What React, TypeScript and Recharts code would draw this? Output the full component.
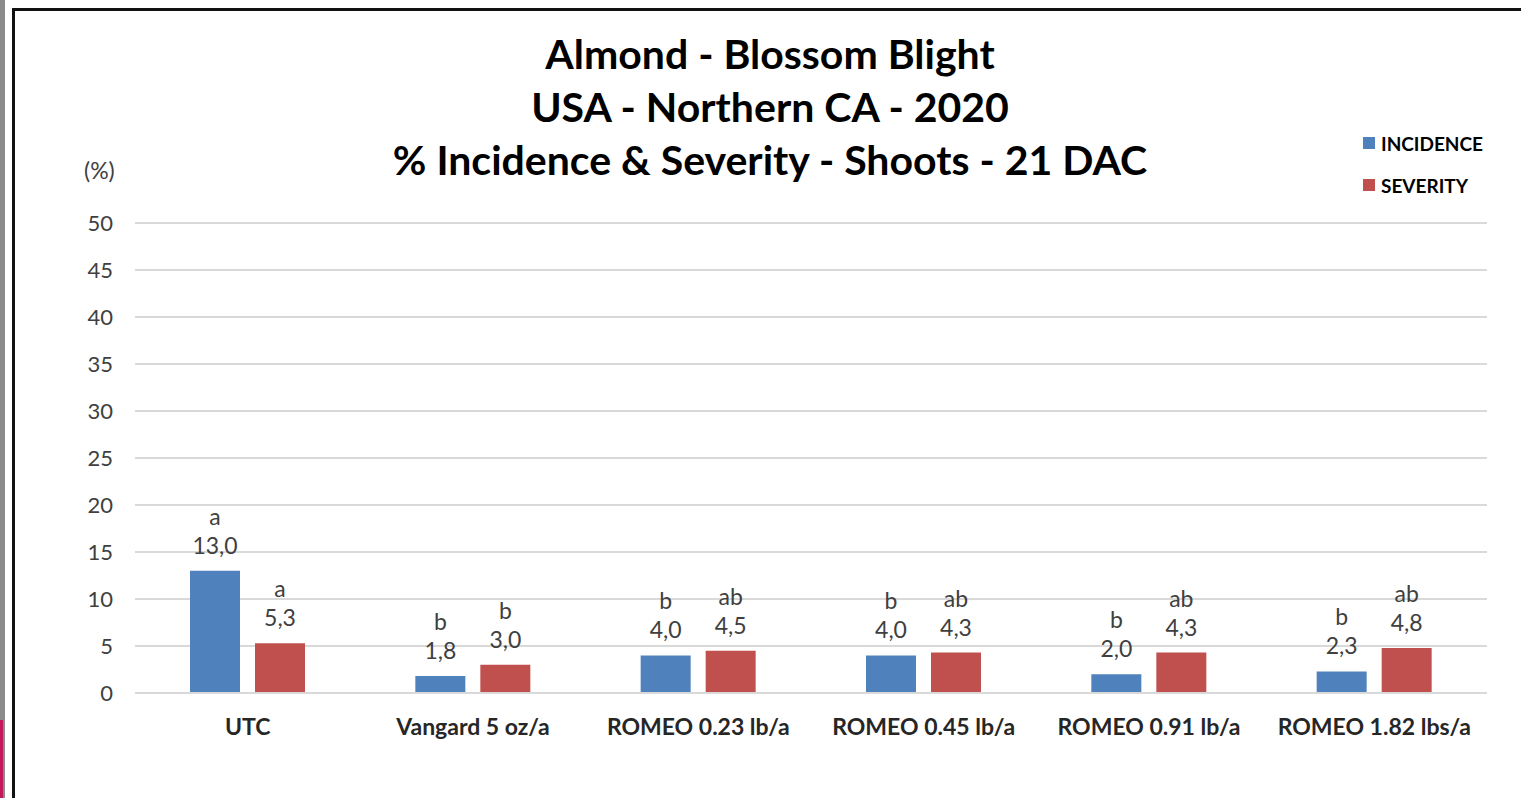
import React from 'react'
import { Bar, BarChart, CartesianGrid, LabelList, XAxis, YAxis } from 'recharts'

const categories = ['UTC', 'Vangard 5 oz/a', 'ROMEO 0.23 lb/a', 'ROMEO 0.45 lb/a', 'ROMEO 0.91 lb/a', 'ROMEO 1.82 lbs/a']
const incidence = [13.0, 1.8, 4.0, 4.0, 2.0, 2.3]
const severity = [5.3, 3.0, 4.5, 4.3, 4.3, 4.8]
const incidenceLetters = ['a', 'b', 'b', 'b', 'b', 'b']
const severityLetters = ['a', 'b', 'ab', 'ab', 'ab', 'ab']
const yTicks = [0, 5, 10, 15, 20, 25, 30, 35, 40, 45, 50]

const data = categories.map((name, i) => ({
  name,
  incidence: incidence[i],
  severity: severity[i],
}))

const FONT = 'Lato, "Open Sans", sans-serif'
const BLUE = '#4f81bd'
const RED = '#c0504d'

function makeLabel(letters: string[]) {
  return (props: any) => {
    const { x, y, width, value, index } = props
    const cx = x + width / 2
    return (
      <g fontFamily={FONT} fontSize={23} fill="#404040" textAnchor="middle">
        <text x={cx} y={y - 26} dominantBaseline="central">{Number(value).toFixed(1).replace('.', ',')}</text>
        <text x={cx} y={y - 55} dominantBaseline="central">{letters[index]}</text>
      </g>
    )
  }
}

export default function App() {
  return (
    <div style={{ position: 'absolute', left: 0, top: 0, width: 1521, height: 798, background: '#fff', overflow: 'hidden', fontFamily: FONT }}>
      <div style={{ position: 'absolute', left: 0, top: 0, width: 5, height: 798, background: '#8a8a8a' }} />
      <div style={{ position: 'absolute', left: 0, top: 720, width: 3, height: 78, background: '#c2185b' }} />
      <div style={{ position: 'absolute', left: 12, top: 8, width: 1521, height: 800, borderTop: '3px solid #111', borderLeft: '3px solid #111' }} />

      <div style={{ position: 'absolute', left: 0, top: 27, width: 1540, textAlign: 'center', fontWeight: 700, fontSize: 41, lineHeight: '53px', color: '#000' }}>
        <div>Almond - Blossom Blight</div>
        <div>USA - Northern CA - 2020</div>
        <div>% Incidence &amp; Severity - Shoots - 21 DAC</div>
      </div>

      <div style={{ position: 'absolute', left: 84, top: 156, fontSize: 23, color: '#404040' }}>(%)</div>

      <div style={{ position: 'absolute', left: 1363, top: 131, fontSize: 19, fontWeight: 700, color: '#000' }}>
        <div style={{ display: 'flex', alignItems: 'center', height: 24 }}>
          <span style={{ width: 12, height: 12, background: BLUE, marginRight: 6 }} />INCIDENCE
        </div>
        <div style={{ display: 'flex', alignItems: 'center', height: 24, marginTop: 18 }}>
          <span style={{ width: 12, height: 12, background: RED, marginRight: 6 }} />SEVERITY
        </div>
      </div>

      <div style={{ position: 'absolute', left: 0, top: 0 }}>
        <BarChart
          width={1521}
          height={798}
          data={data}
          margin={{ top: 223, right: 34, bottom: 75, left: 0 }}
          barCategoryGap={55}
          barGap={15}
        >
          <CartesianGrid horizontal vertical={false} stroke="#d9d9d9" strokeWidth={2} />
          <XAxis
            dataKey="name"
            height={30}
            axisLine={{ stroke: '#d9d9d9', strokeWidth: 2 }}
            tickLine={false}
            tickMargin={20}
            tick={{ fontFamily: FONT, fontSize: 23, fontWeight: 700, fill: '#262626' }}
            interval={0}
          />
          <YAxis
            width={135}
            domain={[0, 50]}
            ticks={yTicks}
            axisLine={false}
            tickLine={false}
            tickMargin={16}
            tick={{ fontFamily: FONT, fontSize: 22, fill: '#404040' }}
          />
          <Bar dataKey="incidence" fill={BLUE} barSize={50} isAnimationActive={false}>
            <LabelList dataKey="incidence" content={makeLabel(incidenceLetters)} />
          </Bar>
          <Bar dataKey="severity" fill={RED} barSize={50} isAnimationActive={false}>
            <LabelList dataKey="severity" content={makeLabel(severityLetters)} />
          </Bar>
        </BarChart>
      </div>
    </div>
  )
}
